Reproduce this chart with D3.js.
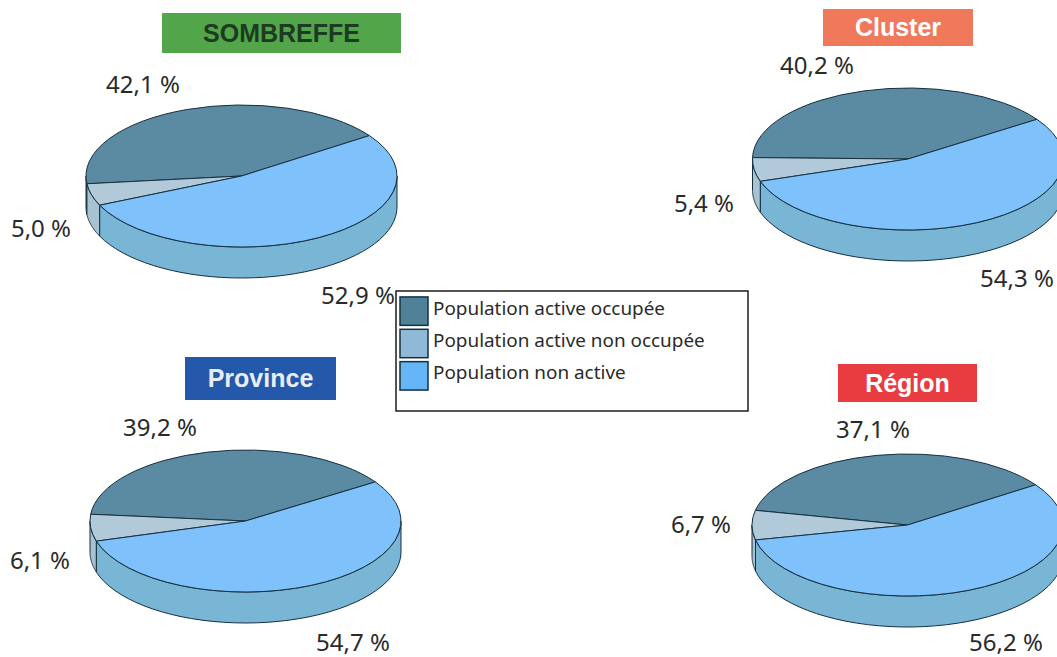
<!DOCTYPE html>
<html>
<head>
<meta charset="utf-8">
<script src="https://cdn.jsdelivr.net/npm/d3@7"></script>
<style>
    body { margin: 0; background: #fff; }
    text { font-family: "Noto Sans", sans-serif; fill: #2a2a2a; }
</style>
</head>
<body>
<div id="graph"></div>
<script>
// values
var categories = ["Population active occupée", "Population active non occupée", "Population non active"];
var panels = ["SOMBREFFE", "Cluster", "Province", "Région"];
var activeOccupied = [42.1, 40.2, 39.2, 37.1];
var activeUnoccupied = [5.0, 5.4, 6.1, 6.7];
var nonActive = [52.9, 54.3, 54.7, 56.2];

// layout only
var rx = 155.5, ry = 71, depth = 31;
var layout = [
    { cx: 241.5, cy: 176, rot: 55.3, box: [162, 13, 239, 40, "#52a548"], ink: "#1f3a24", labels: [[143, 85], [41, 229], [358, 296]] },
    { cx: 908, cy: 159, rot: 56, box: [823, 9, 150, 37, "#f0795c"], ink: "#fff", labels: [[817, 66], [704, 204], [1017, 279]] },
    { cx: 245.5, cy: 521, rot: 56.6, box: [185, 357, 151, 43, "#2458aa"], ink: "#e8eef8", labels: [[160, 428], [40, 561], [353, 643]] },
    { cx: 907.5, cy: 525, rot: 55.5, box: [838, 364, 139, 38, "#e83c40"], ink: "#fff", labels: [[873, 430], [701, 525], [1006, 643]] }
];
var topColor = d3.scaleOrdinal().domain(categories).range(["#5b8aa3", "#b1c9d9", "#7fc1fb"]);
var wallColor = d3.scaleOrdinal().domain(categories).range(["#47708a", "#a9c2d2", "#79b6d6"]);
var legendColor = d3.scaleOrdinal().domain(categories).range(["#4f8198", "#8fb9d6", "#65b6f6"]);
var edge = "#16303f";

var svg = d3.select("#graph").append("svg")
    .attr("width", 1057)
    .attr("height", 657)
    .style("display", "block");

var rad = Math.PI / 180;
var arc = d3.arc().innerRadius(0).outerRadius(rx);
var wallLine = d3.line();

// side wall of a slice, only the part on the front half of the ellipse
function wallPath(a0, a1) {
    var lo = Math.max(Math.min(a0, a1), -270 * rad);
    var hi = Math.min(Math.max(a0, a1), -90 * rad);
    if (hi <= lo) return null;
    var pts = [];
    d3.range(0, 41).forEach(function (i) {
        var a = lo + (hi - lo) * i / 40;
        pts.push([rx * Math.sin(a), -ry * Math.cos(a)]);
    });
    d3.range(40, -1, -1).forEach(function (i) {
        var a = lo + (hi - lo) * i / 40;
        pts.push([rx * Math.sin(a), -ry * Math.cos(a) + depth]);
    });
    return wallLine(pts) + "Z";
}

panels.forEach(function (name, p) {
    var cfg = layout[p];
    var values = [activeOccupied[p], activeUnoccupied[p], nonActive[p]];
    var pie = d3.pie().sort(null)
        .startAngle(cfg.rot * rad)
        .endAngle((cfg.rot - 360) * rad);
    var slices = pie(values);
    var g = svg.append("g").attr("transform", "translate(" + cfg.cx + "," + cfg.cy + ")");

    // walls first, top lies over them
    g.selectAll(".wall")
        .data(slices)
        .enter()
        .append("path")
        .attr("class", "wall")
        .attr("d", function (d) { return wallPath(d.startAngle, d.endAngle); })
        .style("fill", function (d, i) { return wallColor(categories[i]); })
        .style("stroke", edge)
        .style("stroke-width", "1px");

    g.append("g")
        .attr("transform", "scale(1," + (ry / rx) + ")")
        .selectAll(".top")
        .data(slices)
        .enter()
        .append("path")
        .attr("class", "top")
        .attr("d", arc)
        .attr("vector-effect", "non-scaling-stroke")
        .style("fill", function (d, i) { return topColor(categories[i]); })
        .style("stroke", edge)
        .style("stroke-width", "1px");

    // title box
    svg.append("rect")
        .attr("x", cfg.box[0])
        .attr("y", cfg.box[1])
        .attr("width", cfg.box[2])
        .attr("height", cfg.box[3])
        .style("fill", cfg.box[4]);
    svg.append("text")
        .attr("x", cfg.box[0] + cfg.box[2] / 2)
        .attr("y", cfg.box[1] + cfg.box[3] / 2)
        .attr("dy", "0.35em")
        .attr("text-anchor", "middle")
        .style("font-family", "'Liberation Sans', sans-serif")
        .style("font-weight", "bold")
        .style("font-size", "25px")
        .style("fill", cfg.ink)
        .text(name);

    // percentages
    values.forEach(function (v, i) {
        svg.append("text")
            .attr("x", cfg.labels[i][0])
            .attr("y", cfg.labels[i][1])
            .attr("dy", "0.35em")
            .attr("text-anchor", "middle")
            .style("font-size", "24px")
            .text(d3.format(".1f")(v).replace(".", ",") + " %");
    });
});

// legend
svg.append("rect")
    .attr("x", 396)
    .attr("y", 291)
    .attr("width", 352)
    .attr("height", 120)
    .style("fill", "#fff")
    .style("stroke", "#1c1c1c")
    .style("stroke-width", "1.5px");

var legendY = d3.scaleBand().domain(categories).range([295, 394]).padding(0.06);
var legend = svg.selectAll(".legendItem")
    .data(categories)
    .enter()
    .append("g")
    .attr("class", "legendItem");
legend.append("rect")
    .attr("x", 400)
    .attr("y", function (d) { return legendY(d); })
    .attr("width", 28)
    .attr("height", legendY.bandwidth() - 2)
    .style("fill", function (d) { return legendColor(d); })
    .style("stroke", edge)
    .style("stroke-width", "1.5px");
legend.append("text")
    .attr("x", 433)
    .attr("y", function (d) { return legendY(d) + legendY.bandwidth() / 2 - 4; })
    .attr("dy", "0.35em")
    .style("font-size", "18.9px")
    .text(function (d) { return d; });
</script>
</body>
</html>
